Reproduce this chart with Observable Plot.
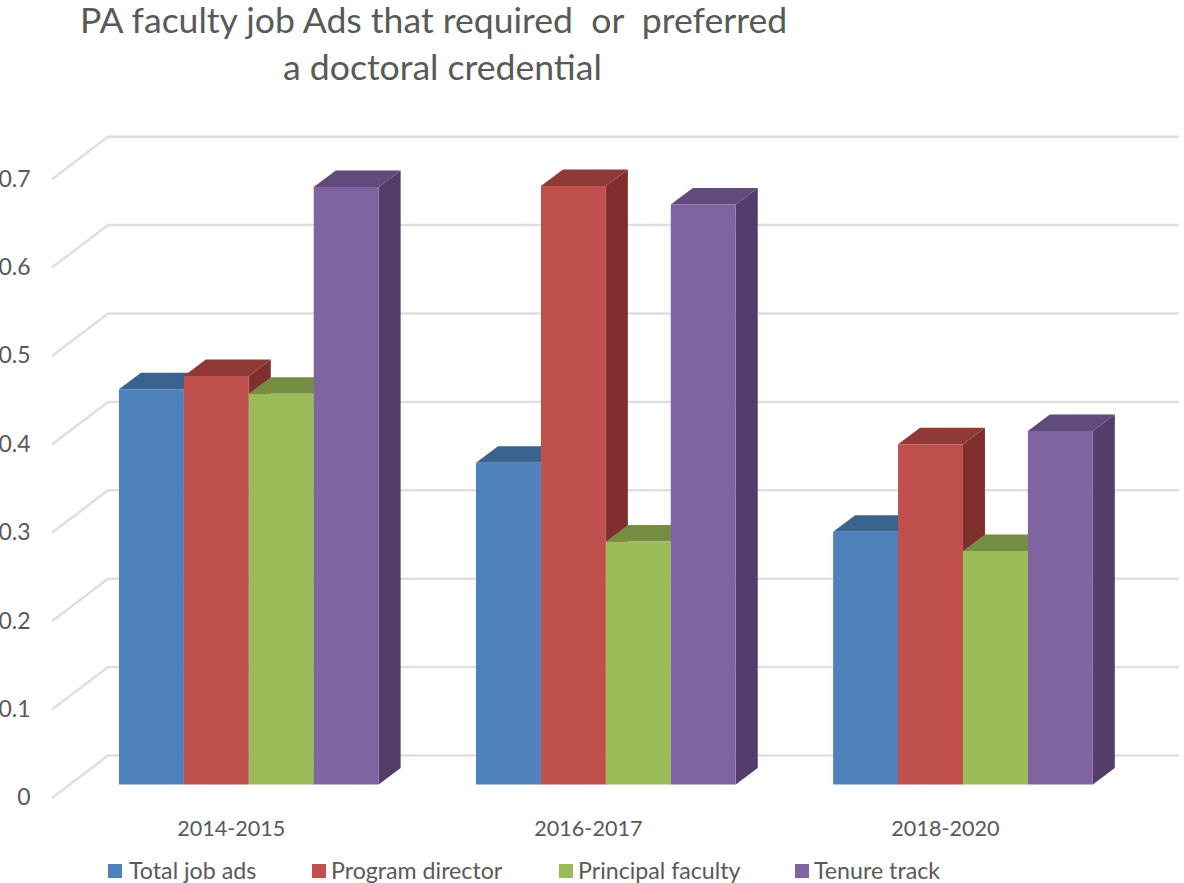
<!DOCTYPE html>
<html>
<head>
<meta charset="utf-8">
<script src="https://cdn.jsdelivr.net/npm/d3@7"></script>
<script src="https://cdn.jsdelivr.net/npm/@observablehq/plot@0.6"></script>
<style>
  html, body { margin: 0; padding: 0; background: #fff; overflow: hidden; }
  body { width: 1184px; height: 883px; position: relative; font-family: Lato, sans-serif; color: #595959; }
  #title { position: relative; height: 100px; font-size: 35.6px; white-space: pre; }
  #title span { position: absolute; line-height: 46px; }
  #chart { height: 740px; }
  #chart svg { display: block; overflow: visible; }
  #legend { position: relative; height: 43px; font-size: 23.2px; }
  #legend i { position: absolute; top: 24px; width: 14px; height: 14px; }
  #legend span { position: absolute; top: 17px; line-height: 27px; white-space: nowrap; }
</style>
</head>
<body>
<div id="title"></div>
<div id="chart"></div>
<div id="legend"></div>
<script>
const titleLines = ["PA faculty job Ads that required  or  preferred", "a doctoral credential"];
const periods = ["2014-2015", "2016-2017", "2018-2020"];
const seriesNames = ["Total job ads", "Program director", "Principal faculty", "Tenure track"];
const totalJobAds = [0.447, 0.364, 0.286];
const programDirector = [0.462, 0.677, 0.385];
const principalFaculty = [0.442, 0.275, 0.264];
const tenureTrack = [0.676, 0.656, 0.400];
const yTicks = [0, 0.1, 0.2, 0.3, 0.4, 0.5, 0.6, 0.7];

const frontColors = ["#4f81bd", "#c0504d", "#9bbb59", "#8064a2"];
const topColors = ["#3b6390", "#903a38", "#758e43", "#614b7c"];
const sideColors = ["#34557f", "#7f302e", "#667d3b", "#533e6b"];

// Pseudo-3D projection, in pixels
const barDepthX = 22, barDepthY = 16.5;
const wallLift = 29, floorDrop = 13.5, gridLeft = 52, wallLeft = 108, wallRight = 1179;
const barWidth = 2 / 11;

const seriesValues = [totalJobAds, programDirector, principalFaculty, tenureTrack];
const rows = periods.flatMap((period, g) =>
  seriesNames.map((name, s) => ({
    group: g, series: name, s, value: seriesValues[s][g],
    x1: g + (s - 2) * barWidth, x2: g + (s - 1) * barWidth
  }))
);

const svgNS = "http://www.w3.org/2000/svg";
function poly(points, fill) {
  const p = document.createElementNS(svgNS, "path");
  p.setAttribute("d", "M" + points.map(q => q.join(",")).join("L") + "Z");
  p.setAttribute("fill", fill);
  return p;
}

function renderBars(index, scales, values) {
  const g = document.createElementNS(svgNS, "g");
  for (const i of index) {
    const d = rows[i];
    const x0 = values.x1[i], x1 = values.x2[i];
    const yTop = Math.min(values.y1[i], values.y2[i]);
    const yBase = Math.max(values.y1[i], values.y2[i]);
    g.append(
      poly([[x1, yBase], [x1 + barDepthX, yBase - barDepthY], [x1 + barDepthX, yTop - barDepthY], [x1, yTop]], sideColors[d.s]),
      poly([[x0, yTop], [x0 + barDepthX, yTop - barDepthY], [x1 + barDepthX, yTop - barDepthY], [x1, yTop]], topColors[d.s]),
      poly([[x0, yBase], [x1, yBase], [x1, yTop], [x0, yTop]], values.fill ? values.fill[i] : frontColors[d.s])
    );
  }
  return g;
}

function renderGrid(index, scales) {
  const g = document.createElementNS(svgNS, "g");
  for (const i of index) {
    const y = scales.y(yTicks[i]);
    const p = document.createElementNS(svgNS, "path");
    p.setAttribute("d", `M${gridLeft},${y + floorDrop}L${wallLeft},${y - wallLift}L${wallRight},${y - wallLift}`);
    p.setAttribute("fill", "none");
    p.setAttribute("stroke", "#dfdfdf");
    p.setAttribute("stroke-width", 2.5);
    g.append(p);
  }
  return g;
}

const title = document.getElementById("title");
[[80, -3], [283, 44]].forEach(([left, top], i) => {
  const s = document.createElement("span");
  s.textContent = titleLines[i];
  s.style.left = left + "px";
  s.style.top = top + "px";
  title.append(s);
});

const chart = Plot.plot({
  width: 1184,
  height: 740,
  marginLeft: 70,
  marginRight: 41,
  marginTop: 65,
  marginBottom: 55,
  style: { fontFamily: "Lato, sans-serif", fontSize: "22px", color: "#595959", background: "transparent" },
  x: { type: "linear", domain: [-0.5, 2.5], range: [70.25, 1141.5] },
  y: { domain: [0, 0.7], range: [684.5, 65.7] },
  color: { domain: seriesNames, range: frontColors },
  marks: [
    Plot.ruleY(yTicks, { y: d => d, render: renderGrid }),
    Plot.axisY(yTicks, {
      anchor: "left", tickSize: 0, tickPadding: 40, dy: 13, label: null,
      tickFormat: d => String(d), fontSize: 23, fill: "#595959"
    }),
    Plot.axisX([0, 1, 2], {
      anchor: "bottom", tickSize: 0, tickPadding: 35, dx: -18, label: null,
      tickFormat: i => periods[i], fontSize: 21.6, fill: "#595959"
    }),
    Plot.rectY(rows, {
      x1: "x1", x2: "x2", y1: 0, y2: "value", fill: "series", inset: 0,
      render: renderBars
    })
  ]
});
document.getElementById("chart").append(chart);

const legend = document.getElementById("legend");
const swatchX = [108, 312, 559, 795], labelX = [129, 331, 578, 814];
seriesNames.forEach((name, i) => {
  const sw = document.createElement("i");
  sw.style.left = swatchX[i] + "px";
  sw.style.background = frontColors[i];
  const lab = document.createElement("span");
  lab.style.left = labelX[i] + "px";
  lab.textContent = name;
  legend.append(sw, lab);
});
</script>
</body>
</html>
